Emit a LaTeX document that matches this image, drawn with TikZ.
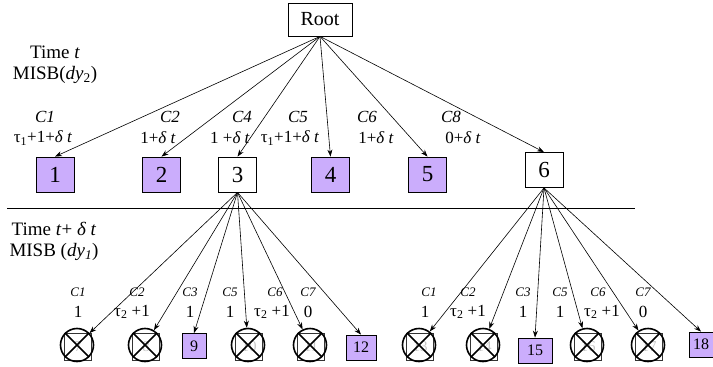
\documentclass[tikz,border=0pt]{standalone}
\usepackage{fontspec}
\setmainfont{Liberation Serif}
\usetikzlibrary{arrows.meta}
\definecolor{lav}{RGB}{203,173,252}
\begin{document}
\begin{tikzpicture}[x=1pt,y=-1pt,
  box/.style={draw,line width=0.8pt,inner sep=0pt},
  lvA/.style={box,minimum width=38pt,minimum height=35pt,font=\fontsize{23}{23}\selectfont},
  leaf/.style={box,fill=lav,minimum height=25pt,font=\fontsize{16}{16}\selectfont},
  dead/.style={box,draw=black!80,line width=0.6pt,minimum width=27pt,minimum height=27pt,text=gray!45,font=\fontsize{15}{15}\selectfont},
  xcirc/.style={circle,draw,line width=1.6pt,minimum size=33pt,inner sep=0pt},
  arr/.style={-{Stealth[length=7pt,width=5pt]},line width=0.6pt},
  clab/.style={inner sep=0pt,font=\fontsize{17}{17}\selectfont\itshape},
  vlab/.style={inner sep=0pt,font=\fontsize{17}{17}\selectfont},
  clabs/.style={inner sep=0pt,font=\fontsize{13}{13}\selectfont\itshape},
  tlab/.style={inner sep=0pt,font=\fontsize{19}{19}\selectfont}
]
\useasboundingbox (0,0) rectangle (713,367);

% root
\node[box,minimum width=64pt,minimum height=33pt,font=\fontsize{20}{20}\selectfont] (root) at (320,19.5) {Root};

% time labels
\node[tlab] (t1a) at (55,52) {Time \textit{t}};
\node[tlab] (t1b) at (55,75) {MISB(\textit{dy}\textsubscript{2})};
\node[tlab] (t2a) at (54,229) {Time \textit{t}+ \textit{δ t}};
\node[tlab] (t2b) at (54,252) {MISB (\textit{dy}\textsubscript{\textit{1}})};

% separator
\coordinate (sepL) at (7,208);
\coordinate (sepR) at (635,208);
\draw[line width=0.9pt] (sepL) -- (sepR);

% level 1
\node[lvA,fill=lav] (b1) at (55,174.5) {1};
\node[lvA,fill=lav] (b2) at (161.5,174.5) {2};
\node[lvA] (b3) at (237.5,174.5) {3};
\node[lvA,fill=lav] (b4) at (330.5,174.5) {4};
\node[lvA,fill=lav] (b5) at (427.5,174.5) {5};
\node[lvA] (b6) at (544,170) {6};

\foreach \b in {b1,b2,b3,b4,b5,b6} \draw[arr] (root.south) -- (\b.north);

% level 1 labels
\node[clab] (l1c) at (45,117) {C1};
\node[vlab] (l1v) at (43,138) {τ\textsubscript{1}+1+\textit{δ t}};
\node[clab] (l2c) at (170,117) {C2};
\node[vlab] (l2v) at (158,138) {1+\textit{δ t}};
\node[clab] (l4c) at (242,117) {C4};
\node[vlab] (l4v) at (230,138) {1 +\textit{δ t}};
\node[clab] (l5c) at (298,117) {C5};
\node[vlab] (l5v) at (290,138) {τ\textsubscript{1}+1+\textit{δ t}};
\node[clab] (l6c) at (367,117) {C6};
\node[vlab] (l6v) at (376,138) {1+\textit{δ t}};
\node[clab] (l8c) at (451,117) {C8};
\node[vlab] (l8v) at (463,138) {0+\textit{δ t}};

% level 2 crossed nodes
\foreach \n/\x in {7/77,8/145,10/248,11/310,13/419,14/483,16/587,17/648}{
  \node[dead] (n\n) at (\x+1,347) {\n};
  \node[xcirc] (c\n) at (\x,345) {};
  \draw[line width=1.6pt] (c\n.north west) -- (c\n.south east) (c\n.north east) -- (c\n.south west);
}
% level 2 leaves
\node[leaf,minimum width=24pt] (n9) at (194,346) {9};
\node[leaf,minimum width=30pt] (n12) at (361,347.5) {12};
\node[leaf,minimum width=34pt] (n15) at (535,350.5) {15};
\node[leaf,minimum width=24pt] (n18) at (701,344.5) {18};

% level 2 arrows
\foreach \t in {c7,c8,c10,c11} \draw[arr] (b3.south) -- (\t);
\foreach \t in {n9,n12} \draw[arr] (b3.south) -- (\t.north);
\foreach \t in {c13,c14,c16,c17} \draw[arr] (b6.south) -- (\t);
\foreach \t in {n15,n18} \draw[arr] (b6.south) -- (\t.north);

% level 2 labels, left
\node[clabs] (a1c) at (78,292) {C1};
\node[vlab] (a1v) at (78,312) {1};
\node[clabs] (a2c) at (137,292) {C2};
\node[vlab] (a2v) at (132,312) {τ\textsubscript{2} +1};
\node[clabs] (a3c) at (190,292) {C3};
\node[vlab] (a3v) at (190,312) {1};
\node[clabs] (a5c) at (230,292) {C5};
\node[vlab] (a5v) at (230,312) {1};
\node[clabs] (a6c) at (275,292) {C6};
\node[vlab] (a6v) at (272,312) {τ\textsubscript{2} +1};
\node[clabs] (a7c) at (308,292) {C7};
\node[vlab] (a7v) at (308,312) {0};

% level 2 labels, right
\node[clabs] (r1c) at (429,292) {C1};
\node[vlab] (r1v) at (425,312) {1};
\node[clabs] (r2c) at (468,292) {C2};
\node[vlab] (r2v) at (468,312) {τ\textsubscript{2} +1};
\node[clabs] (r3c) at (523,292) {C3};
\node[vlab] (r3v) at (523,312) {1};
\node[clabs] (r5c) at (560,292) {C5};
\node[vlab] (r5v) at (560,312) {1};
\node[clabs] (r6c) at (598,292) {C6};
\node[vlab] (r6v) at (602,312) {τ\textsubscript{2} +1};
\node[clabs] (r7c) at (643,292) {C7};
\node[vlab] (r7v) at (643,312) {0};
\end{tikzpicture}
\end{document}
